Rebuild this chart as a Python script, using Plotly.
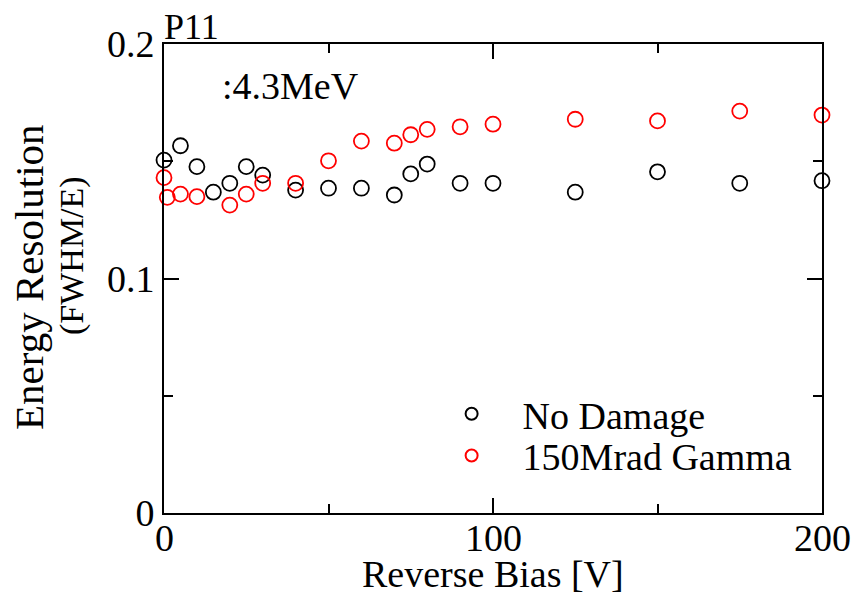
import plotly.graph_objects as go

bias_nd = [0, 5, 10, 15, 20, 25, 30, 40, 50, 60, 70, 75, 80, 90, 100, 125, 150, 175, 200]
res_nd = [0.1505, 0.1566, 0.1477, 0.1368, 0.1406, 0.1477, 0.1441, 0.1377, 0.1385, 0.1385,
          0.1356, 0.1446, 0.1488, 0.1406, 0.1406, 0.1368, 0.1455, 0.1406, 0.1417]

bias_g = [0, 1, 5, 10, 20, 25, 30, 40, 50, 60, 70, 75, 80, 90, 100, 125, 150, 175, 200]
res_g = [0.1430, 0.1346, 0.1360, 0.1349, 0.1313, 0.1360, 0.1406, 0.1406, 0.1502, 0.1586,
         0.1577, 0.1613, 0.1636, 0.1647, 0.1658, 0.1679, 0.1672, 0.1714, 0.1697]

x_ticks = [0, 100, 200]
x_tick_text = ["0", "100", "200"]
y_ticks = [0, 0.1, 0.2]
y_tick_text = ["0", "0.1", "0.2"]

FONT = "Liberation Serif, Times New Roman, serif"
FS = 38

fig = go.Figure()
fig.add_trace(go.Scatter(
    x=bias_nd, y=res_nd, mode="markers", name="No Damage",
    marker=dict(symbol="circle-open", size=15, color="black", line=dict(width=1.8)),
    cliponaxis=False, legend="legend"))
fig.add_trace(go.Scatter(
    x=bias_g, y=res_g, mode="markers", name="150Mrad Gamma",
    marker=dict(symbol="circle-open", size=15, color="red", line=dict(width=1.8)),
    cliponaxis=False, legend="legend2"))

axis_common = dict(showline=True, linecolor="black", linewidth=2, mirror="ticks",
                   ticks="inside", ticklen=15, tickwidth=1.5, tickcolor="black",
                   showgrid=False, zeroline=False, automargin=False,
                   tickfont=dict(family=FONT, size=FS, color="black"))

fig.update_xaxes(range=[0, 200], tickvals=x_ticks, showticklabels=False,
                 minor=dict(dtick=50, tick0=0, ticks="inside", ticklen=9, tickwidth=1.5, tickcolor="black"),
                 **axis_common)
fig.update_yaxes(range=[0, 0.2], tickvals=y_ticks, ticktext=y_tick_text,
                 minor=dict(dtick=0.05, tick0=0, ticks="inside", ticklen=9, tickwidth=1.5, tickcolor="black"),
                 **axis_common)

# x tick labels placed as annotations on the x data axis (to match the reference's tight spacing)
x_label_annots = [
    dict(text=t, xref="x", yref="paper", x=v, y=(513 - 538) / 469,
         xanchor="center", yanchor="middle", showarrow=False,
         font=dict(family=FONT, size=FS, color="black"))
    for v, t in zip(x_ticks, x_tick_text)
]

leg_common = dict(font=dict(family=FONT, size=FS, color="black"), bgcolor="rgba(0,0,0,0)",
                  itemsizing="constant", itemwidth=92, xanchor="left", yanchor="middle",
                  borderwidth=0)
fig.update_layout(
    width=868, height=605,
    margin=dict(l=164, r=46, t=44, b=92),
    paper_bgcolor="white", plot_bgcolor="white",
    showlegend=True,
    legend=dict(x=0.39, y=0.211, **leg_common),
    legend2=dict(x=0.39, y=0.122, **leg_common),
    annotations=x_label_annots + [
        dict(text="P11", xref="paper", yref="paper", x=-0.003, y=(513 - 27) / 469,
             xanchor="left", yanchor="middle", showarrow=False,
             font=dict(family=FONT, size=36, color="black")),
        dict(text=":4.3MeV", xref="paper", yref="paper", x=(220 - 164) / 658, y=(513 - 86) / 469,
             xanchor="left", yanchor="middle", showarrow=False,
             font=dict(family=FONT, size=FS, color="black")),
        dict(text="Reverse Bias [V]", xref="paper", yref="paper", x=0.5, y=(513 - 574) / 469,
             xanchor="center", yanchor="middle", showarrow=False,
             font=dict(family=FONT, size=FS, color="black")),
        dict(text="Energy Resolution", xref="paper", yref="paper", x=(29 - 164) / 658, y=(513 - 277) / 469,
             xanchor="center", yanchor="middle", textangle=-90, showarrow=False,
             font=dict(family=FONT, size=41, color="black")),
        dict(text="(FWHM/E)", xref="paper", yref="paper", x=(72 - 164) / 658, y=(513 - 256) / 469,
             xanchor="center", yanchor="middle", textangle=-90, showarrow=False,
             font=dict(family=FONT, size=34, color="black")),
    ],
)

fig.write_html("out.html")
